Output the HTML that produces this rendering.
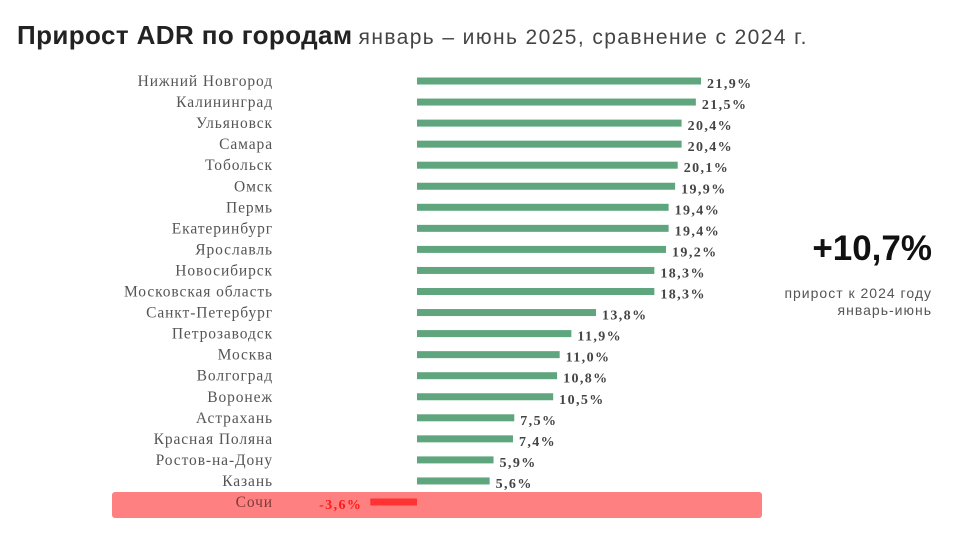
<!DOCTYPE html>
<html><head><meta charset="utf-8"><style>
body{margin:0;background:#fff;width:960px;height:540px;overflow:hidden;font-family:"Liberation Sans",sans-serif}
</style></head><body>
<svg width="960" height="540">
<text x="17" y="44" font-family="Liberation Sans, sans-serif"><tspan font-weight="bold" font-size="26" letter-spacing="0.4" fill="#222">Прирост ADR по городам</tspan><tspan font-size="21" letter-spacing="1.4" fill="#444" dx="6">январь – июнь 2025, сравнение с 2024 г.</tspan></text>
<rect x="112" y="492" width="650" height="26" rx="3" fill="#ff8080"/>
<g id="bars"></g>
<text x="932" y="260" text-anchor="end" font-size="35" font-weight="bold" fill="#111">+10,7%</text>
<text x="932" y="298" text-anchor="end" font-size="14" letter-spacing="1" fill="#555">прирост к 2024 году</text>
<text x="932" y="315" text-anchor="end" font-size="14" letter-spacing="1" fill="#555">январь-июнь</text>
</svg>
<script>
const cities=["Нижний Новгород","Калининград","Ульяновск","Самара","Тобольск","Омск","Пермь","Екатеринбург","Ярославль","Новосибирск","Московская область","Санкт-Петербург","Петрозаводск","Москва","Волгоград","Воронеж","Астрахань","Красная Поляна","Ростов-на-Дону","Казань","Сочи"];
const values=[21.9,21.5,20.4,20.4,20.1,19.9,19.4,19.4,19.2,18.3,18.3,13.8,11.9,11.0,10.8,10.5,7.5,7.4,5.9,5.6,-3.6];
const zeroX=417, pxPer=12.97, y0=81, step=21.05, bh=7;
const x=v=>zeroX+v*pxPer;
const y=i=>y0+i*step;
const g=document.getElementById('bars');
const ns="http://www.w3.org/2000/svg";
values.forEach((v,i)=>{
  const neg=v<0;
  const lab=document.createElementNS(ns,'text');
  
  
  lab.setAttribute('x',273);lab.setAttribute('y',y(i)+5);
  lab.setAttribute('text-anchor','end');lab.setAttribute('font-size','15.5');
  lab.setAttribute('letter-spacing','0.9');
  lab.setAttribute('font-family','Liberation Serif, serif');
  lab.setAttribute('fill',neg?'#7a3a3a':'#555');
  lab.textContent=cities[i];g.appendChild(lab);
  const r=document.createElementNS(ns,'rect');
  
  
  r.setAttribute('x',Math.min(x(v),zeroX));r.setAttribute('y',y(i)-bh/2);
  r.setAttribute('width',Math.abs(x(v)-zeroX));r.setAttribute('height',bh);
  r.setAttribute('fill',neg?'#ff3333':'#5fa67e');g.appendChild(r);
  const t=document.createElementNS(ns,'text');
  
  
  t.setAttribute('x',neg?x(v)-8:x(v)+6);t.setAttribute('y',y(i)+7);
  t.setAttribute('text-anchor',neg?'end':'start');
  t.setAttribute('font-size','14');t.setAttribute('font-weight','bold');
  t.setAttribute('letter-spacing','1.4');
  t.setAttribute('font-family','Liberation Serif, serif');
  t.setAttribute('fill',neg?'#ff1a1a':'#444');
  t.textContent=v.toFixed(1).replace('.',',')+'%';g.appendChild(t);
});
</script>
</body></html>
